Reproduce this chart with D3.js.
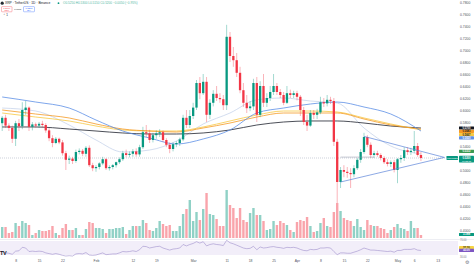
<!DOCTYPE html>
<html><head><meta charset="utf-8">
<script src="https://cdn.jsdelivr.net/npm/d3@7"></script>
<style>html,body{margin:0;padding:0;background:#fff;overflow:hidden}svg{display:block;font-family:"Liberation Sans",Arial,sans-serif}</style>
</head><body><svg id="c" width="474" height="266"></svg>
<script>
// ---------- DATA (XRP / TetherUS, 1D) ----------
const dates = [
"2024-01-04","2024-01-05","2024-01-06","2024-01-07","2024-01-08","2024-01-09","2024-01-10","2024-01-11","2024-01-12","2024-01-13",
"2024-01-14","2024-01-15","2024-01-16","2024-01-17","2024-01-18","2024-01-19","2024-01-20","2024-01-21","2024-01-22","2024-01-23",
"2024-01-24","2024-01-25","2024-01-26","2024-01-27","2024-01-28","2024-01-29","2024-01-30","2024-01-31",
"2024-02-01","2024-02-02","2024-02-03","2024-02-04","2024-02-05","2024-02-06","2024-02-07","2024-02-08","2024-02-09","2024-02-10",
"2024-02-11","2024-02-12","2024-02-13","2024-02-14","2024-02-15","2024-02-16","2024-02-17","2024-02-18","2024-02-19","2024-02-20",
"2024-02-21","2024-02-22","2024-02-23","2024-02-24","2024-02-25","2024-02-26","2024-02-27","2024-02-28","2024-02-29",
"2024-03-01","2024-03-02","2024-03-03","2024-03-04","2024-03-05","2024-03-06","2024-03-07","2024-03-08","2024-03-09","2024-03-10",
"2024-03-11","2024-03-12","2024-03-13","2024-03-14","2024-03-15","2024-03-16","2024-03-17","2024-03-18","2024-03-19","2024-03-20",
"2024-03-21","2024-03-22","2024-03-23","2024-03-24","2024-03-25","2024-03-26","2024-03-27","2024-03-28","2024-03-29","2024-03-30","2024-03-31",
"2024-04-01","2024-04-02","2024-04-03","2024-04-04","2024-04-05","2024-04-06","2024-04-07","2024-04-08","2024-04-09","2024-04-10",
"2024-04-11","2024-04-12","2024-04-13","2024-04-14","2024-04-15","2024-04-16","2024-04-17","2024-04-18","2024-04-19","2024-04-20",
"2024-04-21","2024-04-22","2024-04-23","2024-04-24","2024-04-25","2024-04-26","2024-04-27","2024-04-28","2024-04-29","2024-04-30",
"2024-05-01","2024-05-02","2024-05-03","2024-05-04","2024-05-05","2024-05-06","2024-05-07","2024-05-08"];

const opens = [
.578,.587,.574,.570,.552,.578,.573,.600,.604,.572,
.576,.574,.577,.575,.566,.553,.545,.552,.546,.528,
.517,.519,.515,.530,.532,.527,.537,.508,
.503,.505,.511,.518,.503,.505,.508,.513,.518,.528,
.525,.527,.531,.526,.538,.563,.561,.550,.558,.561,
.563,.550,.542,.535,.543,.545,.551,.587,.575,
.590,.604,.645,.628,.647,.592,.612,.627,.620,.618,
.608,.722,.690,.683,.662,.633,.612,.603,.606,.645,
.592,.640,.612,.620,.630,.640,.630,.625,.612,.628,.625,
.628,.622,.600,.580,.574,.595,.592,.596,.613,.611,
.617,.615,.547,.480,.500,.497,.495,.493,.503,.517,
.530,.555,.542,.525,.528,.525,.520,.513,.510,.513,
.500,.518,.520,.533,.530,.532,.540,.525];
const highs = [
.590,.592,.578,.574,.582,.585,.613,.615,.606,.580,
.579,.580,.582,.578,.570,.558,.555,.554,.550,.532,
.524,.522,.534,.536,.535,.540,.541,.512,
.508,.513,.522,.520,.508,.510,.514,.521,.532,.534,
.531,.535,.536,.542,.572,.575,.567,.562,.566,.568,
.566,.553,.546,.546,.548,.554,.592,.600,.600,
.612,.650,.655,.660,.655,.618,.633,.640,.628,.625,
.742,.730,.705,.695,.672,.645,.625,.615,.652,.655,
.648,.660,.628,.640,.660,.645,.635,.630,.640,.634,.632,
.632,.625,.605,.592,.600,.600,.602,.622,.620,.625,
.622,.620,.552,.505,.508,.505,.503,.508,.520,.535,
.562,.558,.546,.532,.532,.528,.523,.518,.516,.517,
.520,.525,.538,.538,.537,.565,.545,.530];
const lows = [
.565,.570,.565,.545,.540,.565,.568,.592,.565,.566,
.570,.570,.571,.562,.548,.538,.543,.543,.524,.500,
.510,.510,.512,.526,.523,.522,.505,.498,
.497,.501,.508,.500,.499,.501,.504,.510,.515,.521,
.521,.522,.522,.522,.535,.555,.545,.546,.552,.555,
.547,.538,.528,.531,.538,.540,.548,.570,.570,
.585,.600,.618,.625,.580,.585,.606,.615,.612,.600,
.600,.680,.672,.655,.628,.605,.595,.598,.600,.580,
.588,.605,.605,.615,.625,.625,.620,.608,.610,.620,.620,
.616,.590,.575,.565,.572,.585,.585,.593,.605,.606,
.610,.540,.445,.470,.488,.487,.470,.488,.500,.512,
.527,.538,.520,.520,.522,.516,.510,.506,.505,.496,
.478,.512,.515,.525,.525,.528,.522,.515];
const closes = [
.587,.574,.570,.552,.578,.573,.600,.604,.572,.576,
.574,.577,.575,.566,.553,.545,.552,.546,.528,.517,
.519,.515,.530,.532,.527,.537,.508,.503,
.505,.511,.518,.503,.505,.508,.513,.518,.528,.525,
.527,.531,.526,.538,.563,.561,.550,.558,.561,.563,
.550,.542,.535,.543,.545,.551,.587,.575,.590,
.604,.645,.628,.647,.592,.612,.627,.620,.618,.608,
.722,.690,.683,.662,.633,.612,.603,.606,.645,.592,
.640,.612,.620,.630,.640,.630,.625,.612,.628,.625,.628,
.622,.600,.580,.574,.595,.592,.596,.613,.611,.617,
.615,.547,.480,.500,.497,.495,.493,.503,.517,.530,
.555,.542,.525,.528,.525,.520,.513,.510,.513,.500,
.518,.520,.533,.530,.532,.540,.525,.520];
// volume, millions of XRP
const volumes = [
275,275,125,150,375,300,425,375,325,75,
125,200,175,175,200,300,125,75,250,350,
200,200,250,75,75,225,400,375,
250,250,225,125,225,225,250,250,275,100,
200,300,300,300,450,375,200,175,250,425,
350,300,325,175,175,300,600,725,950,
425,650,450,725,1125,600,575,475,300,300,
1200,825,750,500,750,450,400,625,750,575,
575,425,200,225,425,325,425,375,325,200,150,
400,450,425,525,300,150,175,375,500,300,
275,650,875,675,500,450,425,300,475,275,
200,450,325,300,300,250,225,125,200,275,
350,250,225,175,425,250,250,75];
const rsi = [
40,36,35,32,41,42,52,50,40,41,
40,41,40,36,34,32,34,32,29,27,
28,27,33,34,33,37,30,29,
30,33,36,31,32,33,33,36,40,39,
40,42,40,45,55,54,50,52,54,55,
50,47,44,47,48,50,60,56,60,
63,68,64,68,56,60,62,60,59,57,
72,65,62,58,54,50,48,49,55,45,
53,50,51,53,54,52,51,49,52,51,52,
50,46,43,42,46,45,46,50,50,51,
50,40,31,36,36,35,35,38,41,45,
50,47,44,44,43,42,41,40,41,38,
43,43,46,46,46,48,44,43];

// moving averages, sampled
const maDates = ["2024-01-04","2024-01-14","2024-01-24","2024-02-01","2024-02-09","2024-02-17","2024-02-25","2024-03-04",
                 "2024-03-12","2024-03-20","2024-03-28","2024-04-05","2024-04-13","2024-04-21","2024-04-29","2024-05-08"];
const maBlue   = [.6217,.6133,.6033,.5833,.5650,.5533,.5433,.5517,.5667,.5950,.6033,.6100,.6133,.6050,.5933,.5650];
const maOrange = [.6000,.5933,.5867,.5767,.5683,.5650,.5633,.5700,.5783,.5883,.5950,.5950,.5950,.5850,.5750,.5683];
const maYellow = [.5950,.5883,.5817,.5733,.5667,.5650,.5650,.5717,.5817,.5917,.5983,.5983,.5967,.5867,.5767,.5667];
const maBlack  = [.5717,.5717,.5683,.5650,.5617,.5600,.5600,.5617,.5667,.5750,.5800,.5817,.5817,.5783,.5733,.5700];
const maLight  = [.6033,.5983,.5750,.5500,.5300,.5333,.5483,.5767,.5950,.6170,.6200,.6150,.6117,.5700,.5400,.5267];

// triangle drawing
const triUpper = [["2024-04-21",.556],["2024-05-15",.521]];
const triLower = [["2024-04-14",.480],["2024-05-15",.521]];

const priceTicks = [.78,.76,.74,.72,.70,.68,.66,.64,.62,.60,.58,.54,.50,.48,.46,.44,.42,.40];
const timeTicks = ["2024-01-08","2024-01-15","2024-01-22","2024-02-01","2024-02-12","2024-02-19","2024-03-01","2024-03-11",
                   "2024-03-18","2024-03-25","2024-04-01","2024-04-08","2024-04-15","2024-04-22","2024-05-01","2024-05-06","2024-05-13"];
const monthNames = {1:"Feb",2:"Mar",3:"Apr",4:"May"};

// ---------- DRAW ----------
const W=474,H=266,PR=458,PANE_B=239;
const svg=d3.select("#c");
const parse=d3.utcParse("%Y-%m-%d");
const dt=dates.map(parse);
const x=d3.scaleUtc().domain([parse("2024-01-01"),parse("2024-05-31")]).range([-7.85,498.0]);
const y=d3.scaleLinear().domain([0.74,0.40]).range([26,230]);
const yv=d3.scaleLinear().domain([0,1200]).range([238,190]);
const yr=d3.scaleLinear().domain([30,70]).range([255,241]);
const UP="#089981",DN="#f23645";
const bars=dates.map((d,i)=>({t:dt[i],o:opens[i],h:highs[i],l:lows[i],c:closes[i],v:volumes[i],r:rsi[i]}));

svg.append("rect").attr("width",W).attr("height",H).attr("fill","#fff");
const defs=svg.append("defs");
defs.append("clipPath").attr("id","main").append("rect").attr("x",0).attr("y",0).attr("width",PR).attr("height",PANE_B);

const g=svg.append("g").attr("clip-path","url(#main)");

// volume
g.selectAll("rect.vol").data(bars).join("rect").attr("class","vol")
 .attr("x",d=>x(d.t)-1.2).attr("width",2.4)
 .attr("y",d=>yv(d.v)).attr("height",d=>yv(0)-yv(d.v))
 .attr("fill",d=>d.c>=d.o?"rgba(8,153,129,0.45)":"rgba(242,54,69,0.45)");

// current price dotted line
const last=bars[bars.length-1];
g.append("line").attr("x1",0).attr("x2",PR).attr("y1",y(last.c)).attr("y2",y(last.c))
 .attr("stroke","#9aa3b5").attr("stroke-width",0.5).attr("stroke-dasharray","1,1");

// moving averages
const mdt=maDates.map(parse);
const lineGen=d3.line().x(d=>x(d[0])).y(d=>y(d[1])).curve(d3.curveMonotoneX);
[[maLight,"#b6c6e4",0.6],[maBlack,"#1e222d",0.8],[maYellow,"#f7c843",0.8],[maOrange,"#f59a23",0.8],[maBlue,"#5d8fe6",0.8]]
 .forEach(([arr,col,w])=>{
   g.append("path").attr("d",lineGen(arr.map((v,i)=>[mdt[i],v]))).attr("fill","none").attr("stroke",col).attr("stroke-width",w);
 });

// candles
const cg=g.append("g");
cg.selectAll("line.wick").data(bars).join("line").attr("class","wick")
 .attr("x1",d=>x(d.t)).attr("x2",d=>x(d.t)).attr("y1",d=>y(d.h)).attr("y2",d=>y(d.l))
 .attr("stroke",d=>d.c>=d.o?UP:DN).attr("stroke-width",0.5).attr("stroke-opacity",0.75);
cg.selectAll("rect.body").data(bars).join("rect").attr("class","body")
 .attr("x",d=>x(d.t)-1.15).attr("width",2.3)
 .attr("y",d=>y(Math.max(d.o,d.c))).attr("height",d=>Math.max(0.6,Math.abs(y(d.o)-y(d.c))))
 .attr("fill",d=>d.c>=d.o?UP:DN);

// triangle lines
[triUpper,triLower].forEach(seg=>{
  g.append("line").attr("x1",x(parse(seg[0][0]))).attr("y1",y(seg[0][1]))
   .attr("x2",x(parse(seg[1][0]))).attr("y2",y(seg[1][1]))
   .attr("stroke","#5b84d8").attr("stroke-width",0.7);
});
g.append("line").attr("x1",x(parse("2024-04-14"))).attr("x2",x(parse("2024-04-24")))
 .attr("y1",y(0.5215)).attr("y2",y(0.5215)).attr("stroke","#8a93a6").attr("stroke-width",0.5);

// pane separators
svg.append("line").attr("x1",0).attr("x2",W).attr("y1",239.5).attr("y2",239.5).attr("stroke","#e0e3eb").attr("stroke-width",0.6);

// RSI pane
svg.append("rect").attr("x",0).attr("width",PR).attr("y",yr(70)).attr("height",yr(30)-yr(70)).attr("fill","rgba(126,87,194,0.10)");
svg.append("path").attr("d",d3.line().x(d=>x(d.t)).y(d=>yr(d.r))(bars)).attr("fill","none").attr("stroke","#8f7cc2").attr("stroke-width",0.5);

// price axis
const pa=svg.append("g").attr("transform",`translate(${PR+2},0)`)
 .call(d3.axisRight(y).tickValues(priceTicks).tickFormat(d3.format(".4f")).tickSize(0).tickPadding(0));
pa.select(".domain").remove();
pa.selectAll("text").attr("font-size",3.4).attr("fill","#50535e").attr("font-family","Liberation Sans, Arial, sans-serif");

// time axis
const ta=svg.append("g").attr("transform","translate(0,260)")
 .call(d3.axisBottom(x).tickValues(timeTicks.map(parse)).tickSize(0).tickPadding(0)
   .tickFormat(d=>d.getUTCDate()===1?monthNames[d.getUTCMonth()]:String(d.getUTCDate())));
ta.select(".domain").remove();
ta.selectAll("text").attr("font-size",3.4).attr("fill","#50535e").attr("font-family","Liberation Sans, Arial, sans-serif");
svg.append("text").attr("x",467).attr("y",264).attr("font-size",4.5).attr("fill","#787b86").attr("text-anchor","middle").text("⚙");

// axis label boxes
function box(yc,txt,bg,fg,x0=PR+1,w=15,h=3.2){
  svg.append("rect").attr("x",x0).attr("y",yc-h/2).attr("width",w).attr("height",h).attr("fill",bg).attr("rx",0.4);
  svg.append("text").attr("x",x0+w/2).attr("y",yc+0.95).attr("text-anchor","middle").attr("font-size",2.6)
   .attr("fill",fg).attr("font-weight","bold").text(txt);
}
const maLast=[[maBlack,"#131722","#fff"],[maOrange,"#f59a23","#131722"],[maYellow,"#f7c843","#131722"],[maBlue,"#5d8fe6","#fff"]]
  .map(([a,bg,fg])=>({v:a[a.length-1],bg,fg,yy:y(a[a.length-1])}));
let prev=-99;
maLast.forEach(m=>{ if(m.yy<prev+3.3) m.yy=prev+3.3; prev=m.yy; box(m.yy,d3.format(".4f")(m.v),m.bg,m.fg); });
const upNow=triUpper[0][1]+(triUpper[1][1]-triUpper[0][1])*((last.t-parse(triUpper[0][0]))/(parse(triUpper[1][0])-parse(triUpper[0][0])));
box(y(upNow),d3.format(".4f")(upNow),"#3d9a52","#fff");
// last price with countdown
svg.append("rect").attr("x",PR+1).attr("y",y(last.c)-2.2).attr("width",15).attr("height",6.6).attr("fill","#089981").attr("rx",0.4);
svg.append("text").attr("x",PR+8.5).attr("y",y(last.c)+0.9).attr("text-anchor","middle").attr("font-size",2.6).attr("fill","#fff").attr("font-weight","bold").text(d3.format(".4f")(last.c));
svg.append("text").attr("x",PR+8.5).attr("y",y(last.c)+3.8).attr("text-anchor","middle").attr("font-size",2.3).attr("fill","#fff").text("10:32:15");
svg.append("rect").attr("x",PR-11.5).attr("y",y(last.c)-2).attr("width",11.5).attr("height",4).attr("fill","#089981").attr("rx",0.4);
svg.append("text").attr("x",PR-5.75).attr("y",y(last.c)+0.9).attr("text-anchor","middle").attr("font-size",2.5).attr("fill","#fff").text("XRPUSDT");
box(yv(last.v)-0.5,"3.18M","#089981","#fff");
box(yr(51),"51.30","#f7d443","#131722");
box(yr(last.r),d3.format(".2f")(last.r),"#7e57c2","#fff");
[[70,"70.00"],[30,"30.00"]].forEach(([v,t])=>svg.append("text").attr("x",PR+2).attr("y",yr(v)+(v===70?-0.5:2.5)).attr("font-size",2.6).attr("fill","#787b86").text(t));

// header
svg.append("circle").attr("cx",2.2).attr("cy",3.2).attr("r",1.6).attr("fill","#23292f");
svg.append("text").attr("x",5).attr("y",4.4).attr("font-size",3.3).attr("fill","#131722").text("XRP · TetherUS · 1D · Binance");
svg.append("circle").attr("cx",58.5).attr("cy",3.2).attr("r",0.9).attr("fill","#089981");
svg.append("text").attr("x",63).attr("y",4.4).attr("font-size",3.1).attr("fill","#55b8a5")
 .text(`O${d3.format(".4f")(last.o)} H${d3.format(".4f")(last.h)} L${d3.format(".4f")(last.l)} C${d3.format(".4f")(last.c)} −0.0050 (−0.95%)`);
svg.append("rect").attr("x",1.5).attr("y",6.6).attr("width",10.5).attr("height",5.2).attr("fill","#fff").attr("stroke","#f23645").attr("stroke-width",0.35).attr("rx",0.6);
svg.append("text").attr("x",6.75).attr("y",9.1).attr("text-anchor","middle").attr("font-size",2.3).attr("fill","#f23645").text("0.5199");
svg.append("text").attr("x",6.75).attr("y",11.2).attr("text-anchor","middle").attr("font-size",1.8).attr("fill","#f23645").text("SELL");
svg.append("text").attr("x",17.8).attr("y",10).attr("text-anchor","middle").attr("font-size",2.3).attr("fill","#131722").text("0.0001");
svg.append("rect").attr("x",23.5).attr("y",6.6).attr("width",11).attr("height",5.2).attr("fill","#fff").attr("stroke","#2962ff").attr("stroke-width",0.35).attr("rx",0.6);
svg.append("text").attr("x",29).attr("y",9.1).attr("text-anchor","middle").attr("font-size",2.3).attr("fill","#2962ff").text("0.5200");
svg.append("text").attr("x",29).attr("y",11.2).attr("text-anchor","middle").attr("font-size",1.8).attr("fill","#2962ff").text("BUY");
svg.append("text").attr("x",2.5).attr("y",16.3).attr("font-size",3).attr("fill","#131722").text("⌃ 1");

// TV logo
svg.append("text").attr("x",0).attr("y",255).attr("font-size",5.5).attr("font-weight",900).attr("fill","#131722").attr("letter-spacing",-0.4).text("TV");
</script></body></html>
